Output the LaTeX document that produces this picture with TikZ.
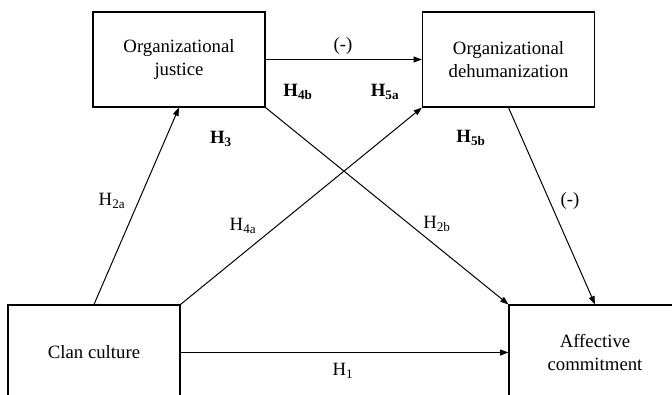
\documentclass[tikz,border=0pt]{standalone}
\usepackage{fontspec}
\setmainfont{Liberation Serif}
\usetikzlibrary{arrows.meta}

\tikzset{
  varbox/.style={draw=black, line width=1pt, minimum width=5.16cm, minimum height=2.85cm,
    align=center, font=\fontsize{16}{19.5}\selectfont, inner sep=0pt},
  path/.style={black, line width=0.85pt, -{Triangle[length=7pt, width=5pt]}},
  hyp/.style={font=\fontsize{16}{19.5}\selectfont, inner sep=1pt}
}

\begin{document}
\begin{tikzpicture}[x=0.03cm,y=-0.03cm]
\useasboundingbox (0,0) rectangle (672,395);
\begin{scope}
\clip (0,0) rectangle (672,395);
\node[varbox] (justice) at (179,59.5) {Organizational\\justice};
\node[varbox] (dehum) at (508.5,59.5) {Organizational\\dehumanization};
\node[varbox] (clan) at (94,352.5) {Clan culture};
\node[varbox] (affect) at (595,352.5) {Affective\\commitment};
\end{scope}
\draw[path] (justice.east) -- (dehum.west);
\draw[path] (clan.north) -- (justice.south);
\draw[path] (clan.north east) -- (dehum.south west);
\draw[path] (justice.south east) -- (affect.north west);
\draw[path] (dehum.south) -- (affect.north);
\draw[path] (clan.east) -- (affect.west);
\node[hyp] (neg1) at (343,46) {(-)};
\node[hyp] (neg2) at (570,201) {(-)};
\node[hyp] (h4b) at (298,92) {\textbf{H\textsubscript{4b}}};
\node[hyp] (h5a) at (385,92) {\textbf{H\textsubscript{5a}}};
\node[hyp] (h3) at (221,139) {\textbf{H\textsubscript{3}}};
\node[hyp] (h5b) at (471,138) {\textbf{H\textsubscript{5b}}};
\node[hyp] (h2a) at (112,201) {H\textsubscript{2a}};
\node[hyp] (h4a) at (243,226) {H\textsubscript{4a}};
\node[hyp] (h2b) at (437,224) {H\textsubscript{2b}};
\node[hyp] (h1) at (343,371) {H\textsubscript{1}};
\end{tikzpicture}
\end{document}
